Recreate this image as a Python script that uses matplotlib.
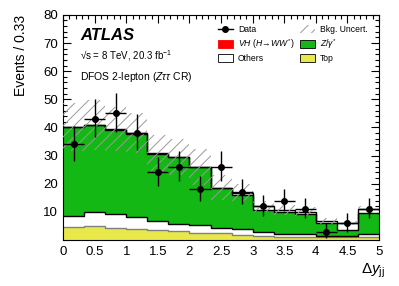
import numpy as np
import matplotlib
matplotlib.use('Agg')
import matplotlib.pyplot as plt
from matplotlib.ticker import MultipleLocator
from matplotlib.patches import Patch
from matplotlib.lines import Line2D

plt.rcParams['font.family'] = ['Liberation Sans', 'DejaVu Sans']
plt.rcParams['mathtext.fontset'] = 'custom'
plt.rcParams['mathtext.rm'] = 'Liberation Sans'
plt.rcParams['mathtext.it'] = 'Liberation Sans:italic'
plt.rcParams['mathtext.bf'] = 'Liberation Sans:bold'
plt.rcParams['hatch.color'] = '#9a9a9a'
plt.rcParams['hatch.linewidth'] = 0.7

# 15 bins of 1/3 in delta y_jj
edges = np.linspace(0, 5, 16)

# stack, bottom to top
top_q = [4.6, 5.0, 4.2, 4.0, 3.7, 3.3, 2.6, 2.4, 1.8, 1.3, 1.1, 1.0, 0.9, 0.9, 1.0]
others = [4.0, 4.9, 5.1, 4.3, 3.1, 2.5, 2.8, 2.0, 2.2, 1.5, 1.0, 1.0, 0.5, 0.5, 1.1]
zgamma = [31.4, 30.8, 29.9, 29.5, 23.9, 23.6, 20.4, 14.0, 12.0, 8.0, 7.9, 7.2, 4.8, 2.2, 7.4]
vh = [0.1, 0.1, 0.3, 0.1, 0.1, 0.1, 0.0, 0.0, 0.0, 0.0, 0.0, 0.0, 0.0, 0.0, 0.0]
others_hi = [0.0, 0.0, 0.0, 0.0, 0.0, 0.1, 0.2, 0.2, 0.8, 1.1, 0.7, 0.9, 0.6, 2.4, 1.6]
bkg_unc = [8.4, 8.8, 7.8, 7.1, 6.4, 6.4, 6.5, 4.4, 3.0, 2.1, 1.7, 1.6, 1.1, 0.6, 0.8]

data = [34, 43, 45, 38, 24, 26, 18, 26, 17, 12, 14, 11, 3, 6, 11]
err_hi = [6.4, 7.0, 7.2, 6.6, 5.4, 5.6, 4.7, 5.6, 4.6, 3.9, 4.2, 3.8, 3.0, 3.5, 3.8]
err_lo = [5.8, 6.5, 6.7, 6.1, 4.9, 5.1, 4.2, 5.1, 4.1, 3.4, 3.7, 3.3, 2.3, 3.0, 3.3]

xticks = [0, 0.5, 1, 1.5, 2, 2.5, 3, 3.5, 4, 4.5, 5]
xticklabels = ['0', '0.5', '1', '1.5', '2', '2.5', '3', '3.5', '4', '4.5', '5']

c_top = '#e8e84a'
c_z = '#14b814'
c_vh = '#ff0000'

fig = plt.figure(figsize=(3.99, 2.86), dpi=100)
ax = fig.add_axes([0.158, 0.161, 0.792, 0.787])

# fills first, outlines afterwards
layers = [(top_q, c_top, '#808080'), (others, 'white', 'black'),
          (zgamma, c_z, 'black'), (vh, c_vh, None), (others_hi, 'white', 'black')]
base = np.zeros(15)
outlines = []
for vals, fc, lc in layers:
    up = base + np.array(vals)
    ax.stairs(up, edges, baseline=base, fill=True, color=fc, lw=0, zorder=2)
    if lc is not None:
        outlines.append((up, lc))
    base = up
total = base
for up, lc in outlines:
    ax.stairs(up, edges, baseline=None, color=lc, lw=1.0, zorder=2.5)

unc = np.array(bkg_unc)
ax.stairs(total + unc, edges, baseline=total - unc, fill=True, facecolor='none',
          edgecolor='#9a9a9a', hatch='///', lw=0, zorder=3)

centers = 0.5 * (edges[1:] + edges[:-1])
ax.errorbar(centers, data, yerr=[err_lo, err_hi], xerr=1/6, fmt='o', color='black',
            ms=4, lw=1.0, capsize=0, zorder=5)

ax.set_xlim(0, 5)
ax.set_ylim(0, 80)
ax.set_xticks(xticks)
ax.set_xticklabels(xticklabels)
ax.xaxis.set_minor_locator(MultipleLocator(0.1))
ax.set_yticks(np.arange(10, 81, 10))
ax.yaxis.set_minor_locator(MultipleLocator(2))
ax.tick_params(which='both', direction='in', top=True, right=True, labelsize=9.5)
ax.tick_params(which='major', length=6, width=0.8)
ax.tick_params(which='minor', length=3, width=0.8)
ax.tick_params(axis='x', pad=4)
for s in ax.spines.values():
    s.set_linewidth(0.8)

ax.set_ylabel('Events / 0.33', fontsize=10, loc='top')
ax.yaxis.set_label_coords(-0.11, 1.0)
ax.set_xlabel(r'$\Delta y_{\mathrm{jj}}$', fontsize=11, loc='right')
ax.xaxis.set_label_coords(1.02, -0.095)

ax.text(0.054, 0.888, 'ATLAS', transform=ax.transAxes, fontsize=12,
        fontweight='bold', fontstyle='italic')
ax.text(0.054, 0.8, '√s = 8 TeV, 20.3 fb$^{-1}$', transform=ax.transAxes, fontsize=7)
ax.text(0.054, 0.71, r'DFOS 2-lepton ($Z\tau\tau$ CR)', transform=ax.transAxes, fontsize=7.5)

h_data = Line2D([], [], color='black', marker='o', ms=4, lw=1.0)
h_unc = Patch(facecolor='none', edgecolor='#9a9a9a', hatch='///', lw=0)
h_vh = Patch(facecolor=c_vh, edgecolor=c_vh, lw=0.6)
h_z = Patch(facecolor=c_z, edgecolor='black', lw=0.6)
h_oth = Patch(facecolor='white', edgecolor='black', lw=0.6)
h_top = Patch(facecolor=c_top, edgecolor='black', lw=0.6)
ax.legend([h_data, h_vh, h_oth, h_unc, h_z, h_top],
          ['Data', r'$VH$ ($H\!\rightarrow\!WW^{*}$)', 'Others', 'Bkg. Uncert.',
           r'$Z/\gamma^{*}$', 'Top'],
          ncol=2, fontsize=6.2, frameon=False, loc='upper left',
          bbox_to_anchor=(0.48, 0.97), handlelength=1.7, handleheight=1.0,
          handletextpad=0.6, columnspacing=0.65, labelspacing=0.35, borderaxespad=0)

fig.savefig('out.png', dpi=100)
